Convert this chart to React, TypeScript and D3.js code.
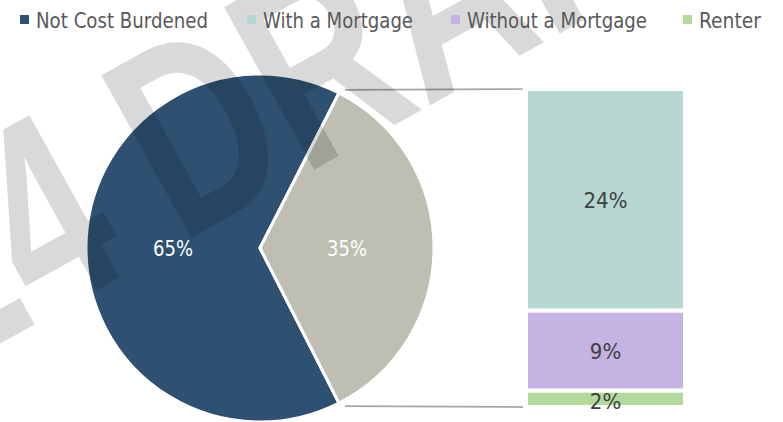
import React, { useEffect, useRef } from 'react';
import * as d3 from 'd3';

const pieLabels = ['Not Cost Burdened', 'Cost Burdened'];
const pieValues = [65, 35];
const pieColors = ['#2e5172', '#bebfb2'];

const barLabels = ['With a Mortgage', 'Without a Mortgage', 'Renter'];
const barValues = [24.4, 8.8, 1.8];
const barColors = ['#b6d7d2', '#c5b3e4', '#b3d99b'];

const legendLabels = ['Not Cost Burdened', 'With a Mortgage', 'Without a Mortgage', 'Renter'];
const legendColors = ['#2e5172', '#b6d7d2', '#c5b3e4', '#b3d99b'];
const legendX = [20, 247, 451, 683];
const legendWidths = [172, 150, 180, 62];

const width = 783;
const height = 422;
const font = '"DejaVu Sans Condensed", "Liberation Sans Narrow", sans-serif';

const App = () => {
  const svgRef = useRef(null);

  useEffect(() => {
    const svg = d3.select(svgRef.current);
    svg.selectAll('*').remove();
    svg.attr('width', width).attr('height', height);

    // pie: grey slice centred on the right
    const cx = 260, cy = 248, r = 174;
    const greyShare = pieValues[1] / d3.sum(pieValues);
    const start = Math.PI / 2 + greyShare * Math.PI;
    const pie = d3.pie<number>().sort(null).startAngle(start).endAngle(start + 2 * Math.PI);
    const arcs = pie(pieValues);
    const arc = d3.arc<d3.PieArcDatum<number>>().innerRadius(0).outerRadius(r);
    const labelArc = d3.arc<d3.PieArcDatum<number>>().innerRadius(r * 0.5).outerRadius(r * 0.5);

    const pieG = svg.append('g').attr('transform', `translate(${cx},${cy})`);
    pieG.selectAll('path')
      .data(arcs)
      .join('path')
      .attr('d', arc)
      .attr('fill', (d, i) => pieColors[i])
      .attr('stroke', '#fff')
      .attr('stroke-width', 3)
      .attr('stroke-linejoin', 'round');

    pieG.selectAll('text')
      .data(arcs)
      .join('text')
      .attr('transform', d => `translate(${labelArc.centroid(d)})`)
      .attr('text-anchor', 'middle')
      .attr('dy', '0.36em')
      .attr('font-family', font)
      .attr('font-size', 22)
      .attr('textLength', 40)
      .attr('lengthAdjust', 'spacingAndGlyphs')
      .attr('fill', '#fff')
      .text(d => `${d.data}%`);

    // stacked bar of the burdened share
    const barX0 = 526, barX1 = 685;
    const y = d3.scaleLinear().domain([0, d3.sum(barValues)]).range([89, 407]);
    let acc = 0;
    const segs = barValues.map((v, i) => {
      const s = { y0: acc, y1: acc + v, v, i, name: barLabels[i] };
      acc += v;
      return s;
    });

    const barG = svg.append('g');
    barG.selectAll('rect')
      .data(segs)
      .join('rect')
      .attr('x', barX0)
      .attr('width', barX1 - barX0)
      .attr('y', d => y(d.y0))
      .attr('height', d => y(d.y1) - y(d.y0))
      .attr('fill', d => barColors[d.i])
      .attr('stroke', '#fff')
      .attr('stroke-width', 4);

    barG.selectAll('text')
      .data(segs)
      .join('text')
      .attr('x', (barX0 + barX1) / 2)
      .attr('y', d => Math.max((y(d.y0) + y(d.y1)) / 2, y(d.y0) + 10))
      .attr('dy', '0.36em')
      .attr('text-anchor', 'middle')
      .attr('font-family', font)
      .attr('font-size', 22)
      .attr('fill', '#404040')
      .text(d => `${Math.round(d.v)}%`);

    // connector lines from the grey slice to the bar
    const greyArc = arcs[1];
    const pTop = [cx + r * Math.sin(greyArc.startAngle) + 6, cy - r * Math.cos(greyArc.startAngle) - 3];
    const pBot = [cx + r * Math.sin(greyArc.endAngle) + 6, cy - r * Math.cos(greyArc.endAngle) + 3];
    const lines = [[pTop, [barX0 - 3, y.range()[0]]], [pBot, [barX0 - 3, y.range()[1]]]];
    svg.append('g')
      .selectAll('line')
      .data(lines)
      .join('line')
      .attr('x1', d => d[0][0]).attr('y1', d => d[0][1])
      .attr('x2', d => d[1][0]).attr('y2', d => d[1][1])
      .attr('stroke', '#a6a6a6')
      .attr('stroke-width', 1.75);

    // draft watermark
    const wm = svg.append('g')
      .attr('transform', 'translate(180,244) rotate(-29) scale(0.72,1)')
      .attr('font-family', '"Liberation Sans", Arial, sans-serif')
      .attr('font-weight', 'bold')
      .attr('font-size', 270)
      .attr('fill', '#000')
      .attr('fill-opacity', 0.15);
    wm.append('text').attr('x', -70).attr('text-anchor', 'end').text('2024');
    wm.append('text').attr('x', 0).text('DRAFT');

    // legend sits above the watermark
    const legend = svg.append('g');
    legendLabels.forEach((name, i) => {
      legend.append('rect')
        .attr('x', legendX[i]).attr('y', 15)
        .attr('width', 9).attr('height', 9)
        .attr('fill', legendColors[i]);
      legend.append('text')
        .attr('x', legendX[i] + 16).attr('y', 28)
        .attr('font-family', font).attr('font-size', 22)
        .attr('fill', '#595959')
        .attr('textLength', legendWidths[i])
        .attr('lengthAdjust', 'spacingAndGlyphs')
        .text(name);
    });
  }, []);

  return (
    <svg ref={svgRef} style={{ position: 'absolute', left: 0, top: 0 }}></svg>
  );
};

export default App;
